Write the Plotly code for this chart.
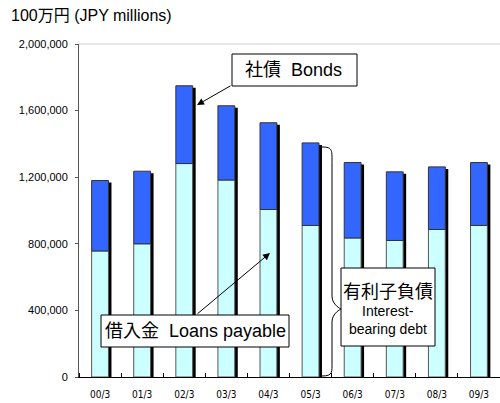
import plotly.graph_objects as go

periods = ['00/3', '01/3', '02/3', '03/3', '04/3', '05/3', '06/3', '07/3', '08/3', '09/3']
loans = [757000, 800000, 1282000, 1183000, 1006000, 910000, 835000, 820000, 886000, 910000]
totals = [1180000, 1236000, 1749000, 1629000, 1527000, 1406000, 1288000, 1232000, 1262000, 1288000]
bonds = [t - l for t, l in zip(totals, loans)]
y_ticks = [0, 400000, 800000, 1200000, 1600000, 2000000]

FONT = 'Liberation Sans, Arial, Noto Sans CJK JP'
W, H = 500, 403
L, R, T, B = 79, 0, 44, 26
PW, PH = W - L - R, H - T - B


def px(x):
    return (x - L) / PW


def py(y):
    return (H - B - y) / PH


idx = list(range(len(periods)))
shift = 3 / (PW / len(periods))

fig = go.Figure()

# drop shadow behind each stack
fig.add_trace(go.Bar(
    x=[i + shift for i in idx], y=[t - 12000 for t in totals], width=0.4,
    marker=dict(color='black', line=dict(width=0)), showlegend=False, hoverinfo='skip'))

fig.add_trace(go.Bar(
    x=idx, y=loans, width=0.4, name='借入金',
    marker=dict(color='#CCFFFF', line=dict(color='#555555', width=1))))

fig.add_trace(go.Bar(
    x=idx, y=bonds, base=loans, width=0.4, name='社債',
    marker=dict(color='#3366FF', line=dict(color='#333333', width=1))))

fig.update_layout(
    width=W, height=H, barmode='overlay', showlegend=False,
    margin=dict(l=L, r=R, t=T, b=B, autoexpand=False),
    paper_bgcolor='white', plot_bgcolor='white',
    font=dict(family=FONT, color='black'),
    xaxis=dict(
        range=[-0.5, len(periods) - 0.5], tickvals=idx, ticktext=periods,
        ticks='', tickfont=dict(size=10, family='DejaVu Sans Condensed, Liberation Sans'),
        ticklabelstandoff=8,
        showline=True, linecolor='black', linewidth=1, showgrid=False, zeroline=False,
        automargin=False,
        minor=dict(tick0=-0.5, dtick=1, ticks='inside', ticklen=4, tickcolor='black'),
    ),
    yaxis=dict(
        range=[0, 2000000], tickvals=y_ticks, tickformat=',',
        tickfont=dict(size=11, family='Liberation Sans Narrow, Liberation Sans'),
        ticks='outside', ticklen=3, tickcolor='#555555', automargin=False,
        ticklabelstandoff=5,
        showline=True, linecolor='#555555', linewidth=1, showgrid=False, zeroline=False,
    ),
)

# top border line
fig.add_shape(type='line', xref='paper', yref='paper', x0=0, x1=1, y0=1, y1=1,
              line=dict(color='#cccccc', width=1))

fig.add_annotation(text='100万円 (JPY millions)', xref='paper', yref='paper',
                   x=px(9), y=py(15), xanchor='left', yanchor='middle',
                   showarrow=False, font=dict(size=16))

# bonds label
fig.add_shape(type='rect', xref='paper', yref='paper',
              x0=px(232), x1=px(357), y0=py(86), y1=py(54),
              line=dict(color='black', width=1), fillcolor='white')
fig.add_annotation(text='社債&nbsp;&nbsp;Bonds', xref='paper', yref='paper',
                   x=px(293), y=py(70), xanchor='center', yanchor='middle',
                   showarrow=False, font=dict(size=18))
fig.add_annotation(text='', xref='paper', yref='paper', x=px(197), y=py(105),
                   ax=35, ay=-20, showarrow=True, arrowhead=2, arrowsize=1.4,
                   arrowwidth=1, arrowcolor='black')

# loans label
fig.add_annotation(text='', xref='paper', yref='paper', x=px(270), y=py(253),
                   ax=-74, ay=62, showarrow=True, arrowhead=2, arrowsize=1.4,
                   arrowwidth=1, arrowcolor='black')
fig.add_shape(type='rect', xref='paper', yref='paper',
              x0=px(101), x1=px(289), y0=py(347), y1=py(315),
              line=dict(color='black', width=1), fillcolor='white')
fig.add_annotation(text='借入金&nbsp;&nbsp;Loans payable', xref='paper', yref='paper',
                   x=px(195), y=py(331), xanchor='center', yanchor='middle',
                   showarrow=False, font=dict(size=18))

# brace for interest-bearing debt
brace = 'M {a},{b} C {c},{b} {d},{e} {d},{f} L {d},{g} C {d},{h} {i},{j} {i},{j} ' \
        'C {i},{j} {d},{k} {d},{l} L {d},{m} C {d},{n} {c},{o} {a},{o}'.format(
            a=px(322), b=py(147), c=px(333), d=px(332), e=py(150), f=py(165),
            g=py(296), h=py(305), i=px(341), j=py(309), k=py(313), l=py(322),
            m=py(362), n=py(372), o=py(376))
fig.add_shape(type='path', xref='paper', yref='paper', path=brace,
              line=dict(color='black', width=1))

fig.add_shape(type='rect', xref='paper', yref='paper',
              x0=px(341), x1=px(435), y0=py(346), y1=py(268),
              line=dict(color='black', width=1), fillcolor='white')
fig.add_annotation(text='有利子負債', xref='paper', yref='paper',
                   x=px(388), y=py(292), xanchor='center', yanchor='middle',
                   showarrow=False, font=dict(size=18))
fig.add_annotation(text='Interest-', xref='paper', yref='paper',
                   x=px(388), y=py(311), xanchor='center', yanchor='middle',
                   showarrow=False, font=dict(size=14))
fig.add_annotation(text='bearing debt', xref='paper', yref='paper',
                   x=px(388), y=py(329), xanchor='center', yanchor='middle',
                   showarrow=False, font=dict(size=14))

fig.write_html('out.html', config={'displayModeBar': False},
               post_script="document.body.style.margin='0';")
